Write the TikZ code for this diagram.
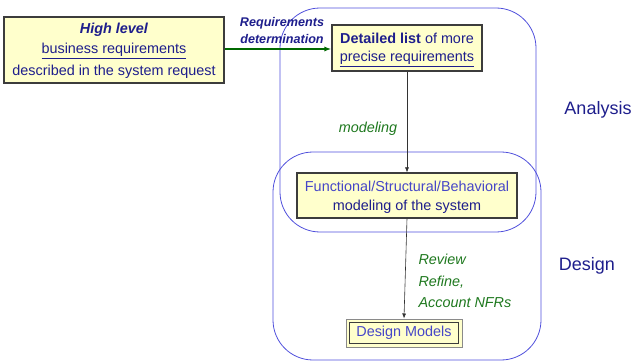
\documentclass[tikz,border=0pt]{standalone}
\usepackage{fontspec}
\setmainfont{Liberation Sans}
\usetikzlibrary{arrows.meta}
\definecolor{navy}{RGB}{30,30,140}
\definecolor{lblue}{RGB}{70,70,200}
\definecolor{rgreen}{RGB}{30,120,30}
\definecolor{agreen}{RGB}{0,105,0}
\definecolor{rline}{RGB}{80,80,220}
\definecolor{boxfill}{RGB}{255,255,204}
\definecolor{boxline}{RGB}{60,60,60}
\tikzset{
  body/.style={font=\fontsize{14.4}{21}\selectfont},
  ybox/.style={draw=boxline, fill=boxfill, line width=1.1pt, inner sep=0pt, align=center, body},
  region/.style={draw=rline, line width=0.8pt, rounded corners=40pt},
  glabel/.style={text=rgreen, body, font=\fontsize{14.4}{21}\selectfont\itshape},
  flow/.style={draw=black!80, line width=0.6pt, -{Latex[length=5pt,width=4pt]}},
  side/.style={text=navy, font=\fontsize{18}{22}\selectfont}
}
\begin{document}
\begin{tikzpicture}[x=1pt,y=-1pt]
\useasboundingbox (0,0) rectangle (633,361);
% regions
\draw[region] (280,8) rectangle (536,232);
\draw[region] (273,152) rectangle (541,360);
% box 1
\node[ybox, minimum width=220pt, minimum height=66pt] (hl) at (114,50) {};
\node[text=navy, body, font=\fontsize{14.4}{21}\selectfont\bfseries\itshape] (hlt) at (114,30) {High level};
\node[text=navy, body] (hlb) at (114,51) {\underline{business requirements}};
\node[text=navy, body] (hlc) at (114,72) {described in the system request};
% box 2
\node[ybox, minimum width=150pt, minimum height=46pt] (dl) at (407,48) {};
\node[text=navy, body] (dlt) at (407,38) {\textbf{Detailed list} of more};
\node[text=navy, body] (dlb) at (407,59) {\underline{precise requirements}};
% box 3
\node[ybox, minimum width=220pt, minimum height=45pt] (fm) at (407,195.5) {};
\node[text=lblue, body] (fmt) at (407,186) {Functional/Structural/Behavioral};
\node[text=navy, body] (fmb) at (407,207) {modeling of the system};
% design models
\node[draw=boxline!60, fill=boxfill, line width=1pt, minimum width=116pt, minimum height=28pt, inner sep=0pt] (dm) at (404,333) {};
\node[draw=boxline, line width=0.9pt, minimum width=109pt, minimum height=21pt, inner sep=0pt, text=lblue, body] (dmi) at (404,333) {Design Models};
% connectors
\draw[draw=agreen, line width=2pt, -{Latex[length=7pt,width=5pt]}] (hl.east |- 0,49) -- (dl.west |- 0,49);
\node[text=navy, align=center, font=\fontsize{12.6}{17}\selectfont\bfseries\itshape] (rd) at (282,30.5) {Requirements\\determination};
\draw[flow] (dl.south) -- (fm.north);
\node[glabel] (mo) at (368,129) {modeling};
\draw[flow] (fm.south) -- (dm.north);
\node[glabel, anchor=west, align=left, font=\fontsize{14.4}{21.5}\selectfont\itshape] (rv) at (415,281) {Review\\Refine,\\Account NFRs};
% side labels
\node[side] (an) at (598,110) {Analysis};
\node[side] (de) at (587,266) {Design};
\end{tikzpicture}
\end{document}
